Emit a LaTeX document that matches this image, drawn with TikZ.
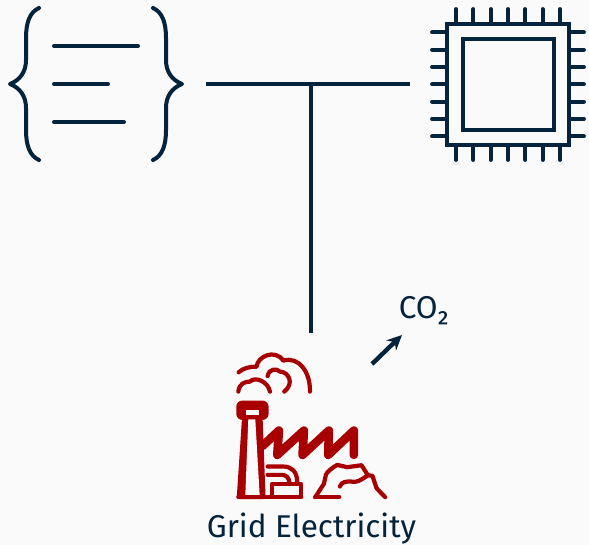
\documentclass[tikz,border=0pt]{standalone}
\usepackage{fontspec}
\setmainfont{Fira Sans}
\usetikzlibrary{arrows.meta}
\definecolor{inkblue}{HTML}{04233C}
\definecolor{factoryred}{HTML}{A80000}
\definecolor{paper}{HTML}{FAFAFA}
\tikzset{
	wire/.style={draw=inkblue, line width=4pt, line cap=round},
	pin/.style={draw=inkblue, line width=3.8pt, line cap=round},
	plant/.style={draw=factoryred, line width=4.2pt, line cap=round, line join=round},
	lbl/.style={text=inkblue, inner sep=0pt, font=\fontsize{31.5pt}{33pt}\selectfont}
}
\begin{document}
\begin{tikzpicture}[x=1pt, y=-1pt, line join=round]
	\fill[paper] (0,0) rectangle (589,545);
	\useasboundingbox (0,0) rectangle (589,545);
	% junction
	\path (206,84) coordinate (L) (410,84) coordinate (R) (311,84) coordinate (J) (311,333) coordinate (G)
		(372,364) coordinate (S) (402,335) coordinate (E);
	\draw[wire, line cap=butt] (L)--(R) (J)--(G);
	\draw[wire, line cap=butt, line width=4.4pt, -{Stealth[length=15pt, width=14pt]}] (S)--(E);
	% code
	\draw[wire] (39,8) .. controls (30,12) and (26,22) .. (26,38) -- (26,60)
		.. controls (26,72) and (20,80) .. (10,84) .. controls (20,88) and (26,96) .. (26,108) -- (26,130)
		.. controls (26,146) and (30,156) .. (39,160);
	\draw[wire] (153,8) .. controls (162,12) and (166,22) .. (166,38) -- (166,60)
		.. controls (166,72) and (172,80) .. (182,84) .. controls (172,88) and (166,96) .. (166,108) -- (166,130)
		.. controls (166,146) and (162,156) .. (153,160);
	\draw[wire] (54,46)--(138,46) (54,84)--(108,84) (54,122)--(124,122);
	% chip
	\draw[inkblue, line width=4pt, line join=miter] (447.3,24) rectangle (568.7,144.7);
	\draw[inkblue, line width=4pt, line join=miter] (462.7,39) rectangle (553.7,130);
	\foreach \i in {0,...,6} {
		\draw[pin] ({456+17.33*\i},9)--({456+17.33*\i},24);
		\draw[pin] ({456+17.33*\i},145)--({456+17.33*\i},160);
		\draw[pin] (432,{32.3+17.33*\i})--(447,{32.3+17.33*\i});
		\draw[pin] (569,{32.3+17.33*\i})--(584,{32.3+17.33*\i});
	}
	% factory
	\begin{scope}[shift={(220,340)}, x=0.333pt, y=-0.333pt]
		\draw[plant] (56,97) .. controls (70,84) and (90,80) .. (110,80)
			.. controls (112,50) and (165,25) .. (190,62) .. controls (235,48) and (272,95) .. (270,155);
		\draw[plant] (143,108) .. controls (148,85) and (170,85) .. (180,95)
			.. controls (205,95) and (225,130) .. (193,155);
		\draw[plant] (55,155) .. controls (58,130) and (75,125) .. (90,125)
			.. controls (105,108) and (145,125) .. (150,155);
		\fill[factoryred, rounded corners=6pt] (49,182) rectangle (146,240);
		\fill[paper] (78,210) rectangle (118,226);
		\fill[factoryred, rounded corners=3pt] (66,235)--(128,235)--(137,478)--(50,478)--cycle;
		\fill[paper] (85,238)--(106,238)--(119,465)--(76,465)--cycle;
		\draw[plant, line width=8.6pt] (402,345)--(402,272)--(325,345)--(327,272)--(248,345)--(252,272)--(172,345)--(177,272)--(128,318);
		\draw[plant] (143,380)--(190,380) .. controls (215,380) and (232,395) .. (232,428);
		\draw[plant] (143,405)--(185,405) .. controls (200,405) and (208,415) .. (208,428);
		\draw[plant] (156,470)--(156,433)--(244,433)--(244,470);
		\draw[plant] (55,471)--(244,471);
		\draw[plant] (286,472)--(312,432)--(318,405) .. controls (322,395) and (335,385) .. (352,375)
			--(382,382)--(425,376)--(444,406)--(458,408)--(470,445)--(496,472);
		\draw[plant] (286,472)--(358,472);
		\draw[plant] (360,440) .. controls (365,425) and (380,425) .. (392,425)
			.. controls (410,430) and (425,420) .. (444,406);
	\end{scope}
	\node[lbl] (co2) at (424,311) {CO₂};
	\node[lbl] (grid) at (311.5,528.5) {Grid Electricity};
\end{tikzpicture}
\end{document}
